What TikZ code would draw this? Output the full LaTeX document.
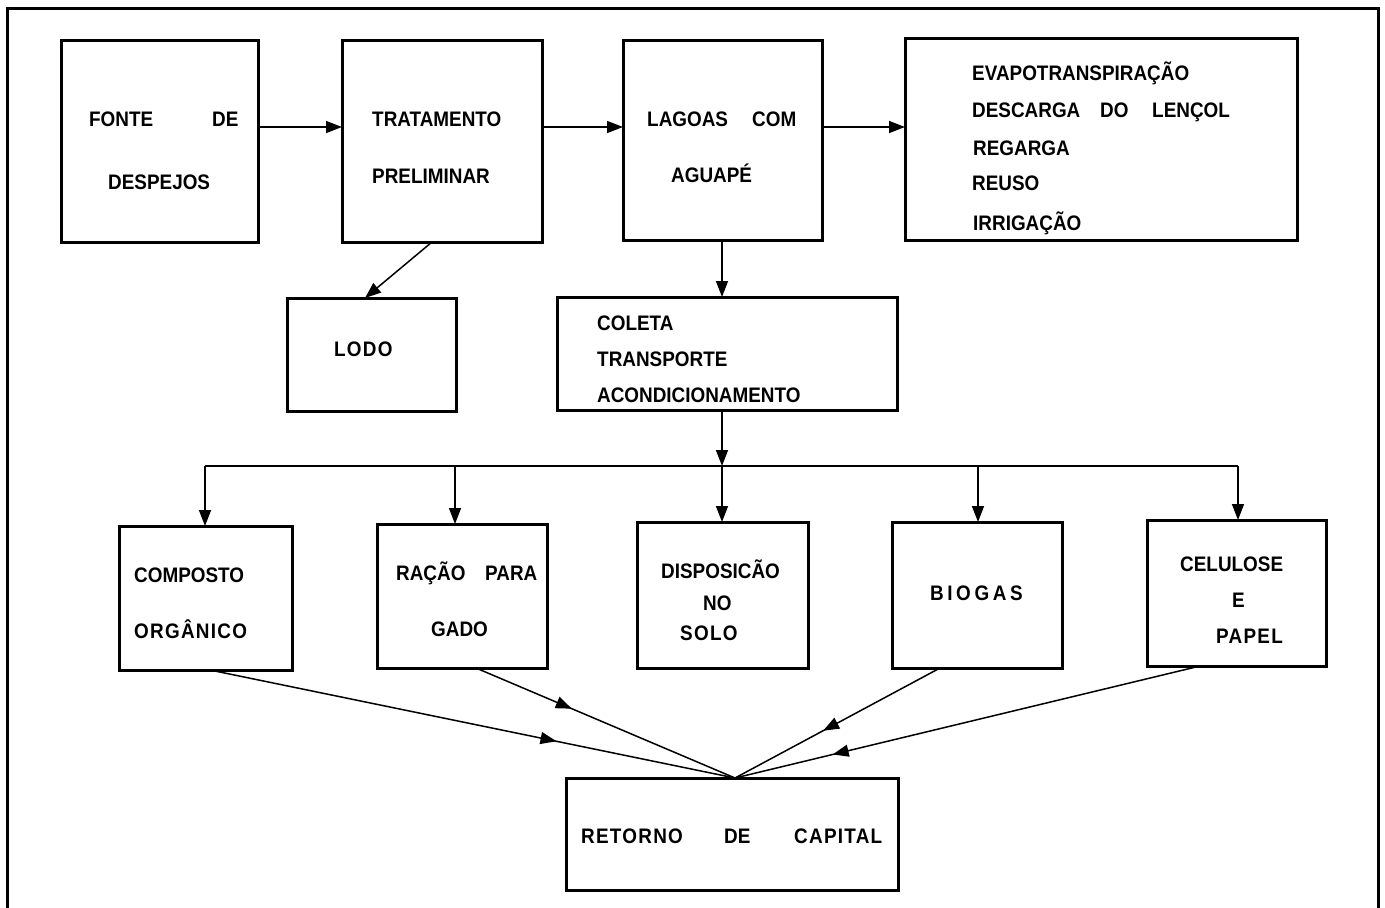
\documentclass[tikz,border=0pt]{standalone}
\usepackage{fontspec}
\newfontfamily\lf{Liberation Sans}[FakeStretch=0.9]
\usetikzlibrary{arrows.meta,decorations.markings}
\tikzset{
  box/.style={draw, line width=3pt, inner sep=0pt, outer sep=0pt},
  lbl/.style={anchor=base west, inner sep=0pt, font=\lf\bfseries\fontsize{21}{25}\selectfont},
  spaced/.style={lbl, font=\lf\bfseries\fontsize{21}{25}\selectfont\addfontfeature{LetterSpace=6}},
  conn/.style={line width=1.5pt},
  arr/.style={conn, -{Triangle[length=16pt,width=12pt]}},
  midarrow/.style={conn, postaction={decorate}, decoration={markings, mark=at position #1 with {\arrow{Triangle[length=16pt,width=12pt]}}}}
}
\begin{document}
\begin{tikzpicture}[x=1pt,y=-1pt]
\useasboundingbox (0,0) rectangle (1385,908);
% outer frame
\draw[line width=3pt] (7,908) -- (7,8) -- (1378,8) -- (1378,908);

% boxes
\node[box, minimum width=197pt, minimum height=202pt] (fonte) at (159.5,141) {};
\node[box, minimum width=200pt, minimum height=202pt] (trat) at (442,141) {};
\node[box, minimum width=199pt, minimum height=200pt] (lagoas) at (722.5,140) {};
\node[box, minimum width=392pt, minimum height=202pt] (dest) at (1101,139) {};
\node[box, minimum width=169pt, minimum height=113pt] (lodo) at (371.5,354.5) {};
\node[box, minimum width=340pt, minimum height=113pt] (coleta) at (727,353.5) {};
\node[box, minimum width=173pt, minimum height=144pt] (comp) at (205.5,598) {};
\node[box, minimum width=170pt, minimum height=144pt] (racao) at (462,596) {};
\node[box, minimum width=171pt, minimum height=146pt] (disp) at (722.5,595) {};
\node[box, minimum width=170pt, minimum height=146pt] (bio) at (977,595) {};
\node[box, minimum width=179pt, minimum height=146pt] (cel) at (1236.5,593) {};
\node[box, minimum width=332pt, minimum height=112pt] (ret) at (732,834) {};

% texts
\node[lbl] (t1a) at (89,126) {FONTE};
\node[lbl] (t1b) at (212,126) {DE};
\node[lbl] (t1c) at (108,189) {DESPEJOS};
\node[lbl] (t2a) at (372,126) {TRATAMENTO};
\node[lbl] (t2b) at (372,183) {PRELIMINAR};
\node[lbl] (t3a) at (647,126) {LAGOAS};
\node[lbl] (t3b) at (752,126) {COM};
\node[lbl] (t3c) at (671,182) {AGUAPÉ};
\node[lbl] (t4a) at (972,80) {EVAPOTRANSPIRAÇÃO};
\node[lbl] (t4b) at (972,117) {DESCARGA};
\node[lbl] (t4c) at (1100,117) {DO};
\node[lbl] (t4d) at (1152,117) {LENÇOL};
\node[lbl] (t4e) at (973,155) {REGARGA};
\node[lbl] (t4f) at (972,190) {REUSO};
\node[lbl] (t4g) at (973,230) {IRRIGAÇÃO};
\node[spaced] (t5a) at (334,356) {LODO};
\node[lbl] (t6a) at (597,330) {COLETA};
\node[lbl] (t6b) at (597,366) {TRANSPORTE};
\node[lbl] (t6c) at (597,402) {ACONDICIONAMENTO};
\node[lbl] (t7a) at (134,582) {COMPOSTO};
\node[spaced] (t7b) at (134,638) {ORGÂNICO};
\node[lbl] (t8a) at (396,580) {RAÇÃO};
\node[lbl] (t8b) at (485,580) {PARA};
\node[lbl] (t8c) at (431,636) {GADO};
\node[lbl] (t9a) at (661,578) {DISPOSICÃO};
\node[lbl] (t9b) at (703,610) {NO};
\node[spaced] (t9c) at (680,640) {SOLO};
\node[lbl, font=\lf\bfseries\fontsize{21}{25}\selectfont\addfontfeature{LetterSpace=17}] (t10a) at (930,600) {BIOGAS};
\node[lbl] (t11a) at (1180,571) {CELULOSE};
\node[lbl] (t11b) at (1232,607) {E};
\node[spaced] (t11c) at (1216,643) {PAPEL};
\node[spaced] (t12a) at (581,843) {RETORNO};
\node[lbl] (t12b) at (724,843) {DE};
\node[spaced] (t12c) at (794,843) {CAPITAL};

% helper coordinates
\coordinate (hy) at (0,127);
\coordinate (tx) at (432,0);
\coordinate (lx) at (365,0);
\coordinate (j) at (722,466);
\coordinate (b1) at (205,466);
\coordinate (b2) at (455,466);
\coordinate (b4) at (978,466);
\coordinate (b5) at (1238,466);
\coordinate (rt) at (735,778);
\coordinate (c1) at (210,0);
\coordinate (c2) at (476,0);
\coordinate (c4) at (940,0);
\coordinate (c5) at (1200,0);

% top row arrows
\draw[arr] (fonte.east |- hy) -- (trat.west |- hy);
\draw[arr] (trat.east |- hy) -- (lagoas.west |- hy);
\draw[arr] (lagoas.east |- hy) -- (dest.west |- hy);
\draw[arr] (trat.south -| tx) -- (lodo.north -| lx);
\draw[arr] (lagoas.south -| j) -- (coleta.north -| j);
\draw[arr] (coleta.south -| j) -- (j);

% bus
\draw[conn] (b1) -- (b5);
\draw[arr] (b1) -- (comp.north -| b1);
\draw[arr] (b2) -- (racao.north -| b2);
\draw[arr] (j) -- (disp.north -| j);
\draw[arr] (b4) -- (bio.north -| b4);
\draw[arr] (b5) -- (cel.north -| b5);

% converging
\draw[midarrow=0.66] (comp.south -| c1) -- (rt);
\draw[midarrow=0.37] (racao.south -| c2) -- (rt);
\draw[midarrow=0.57] (bio.south -| c4) -- (rt);
\draw[midarrow=0.79] (cel.south -| c5) -- (rt);
\end{tikzpicture}
\end{document}
